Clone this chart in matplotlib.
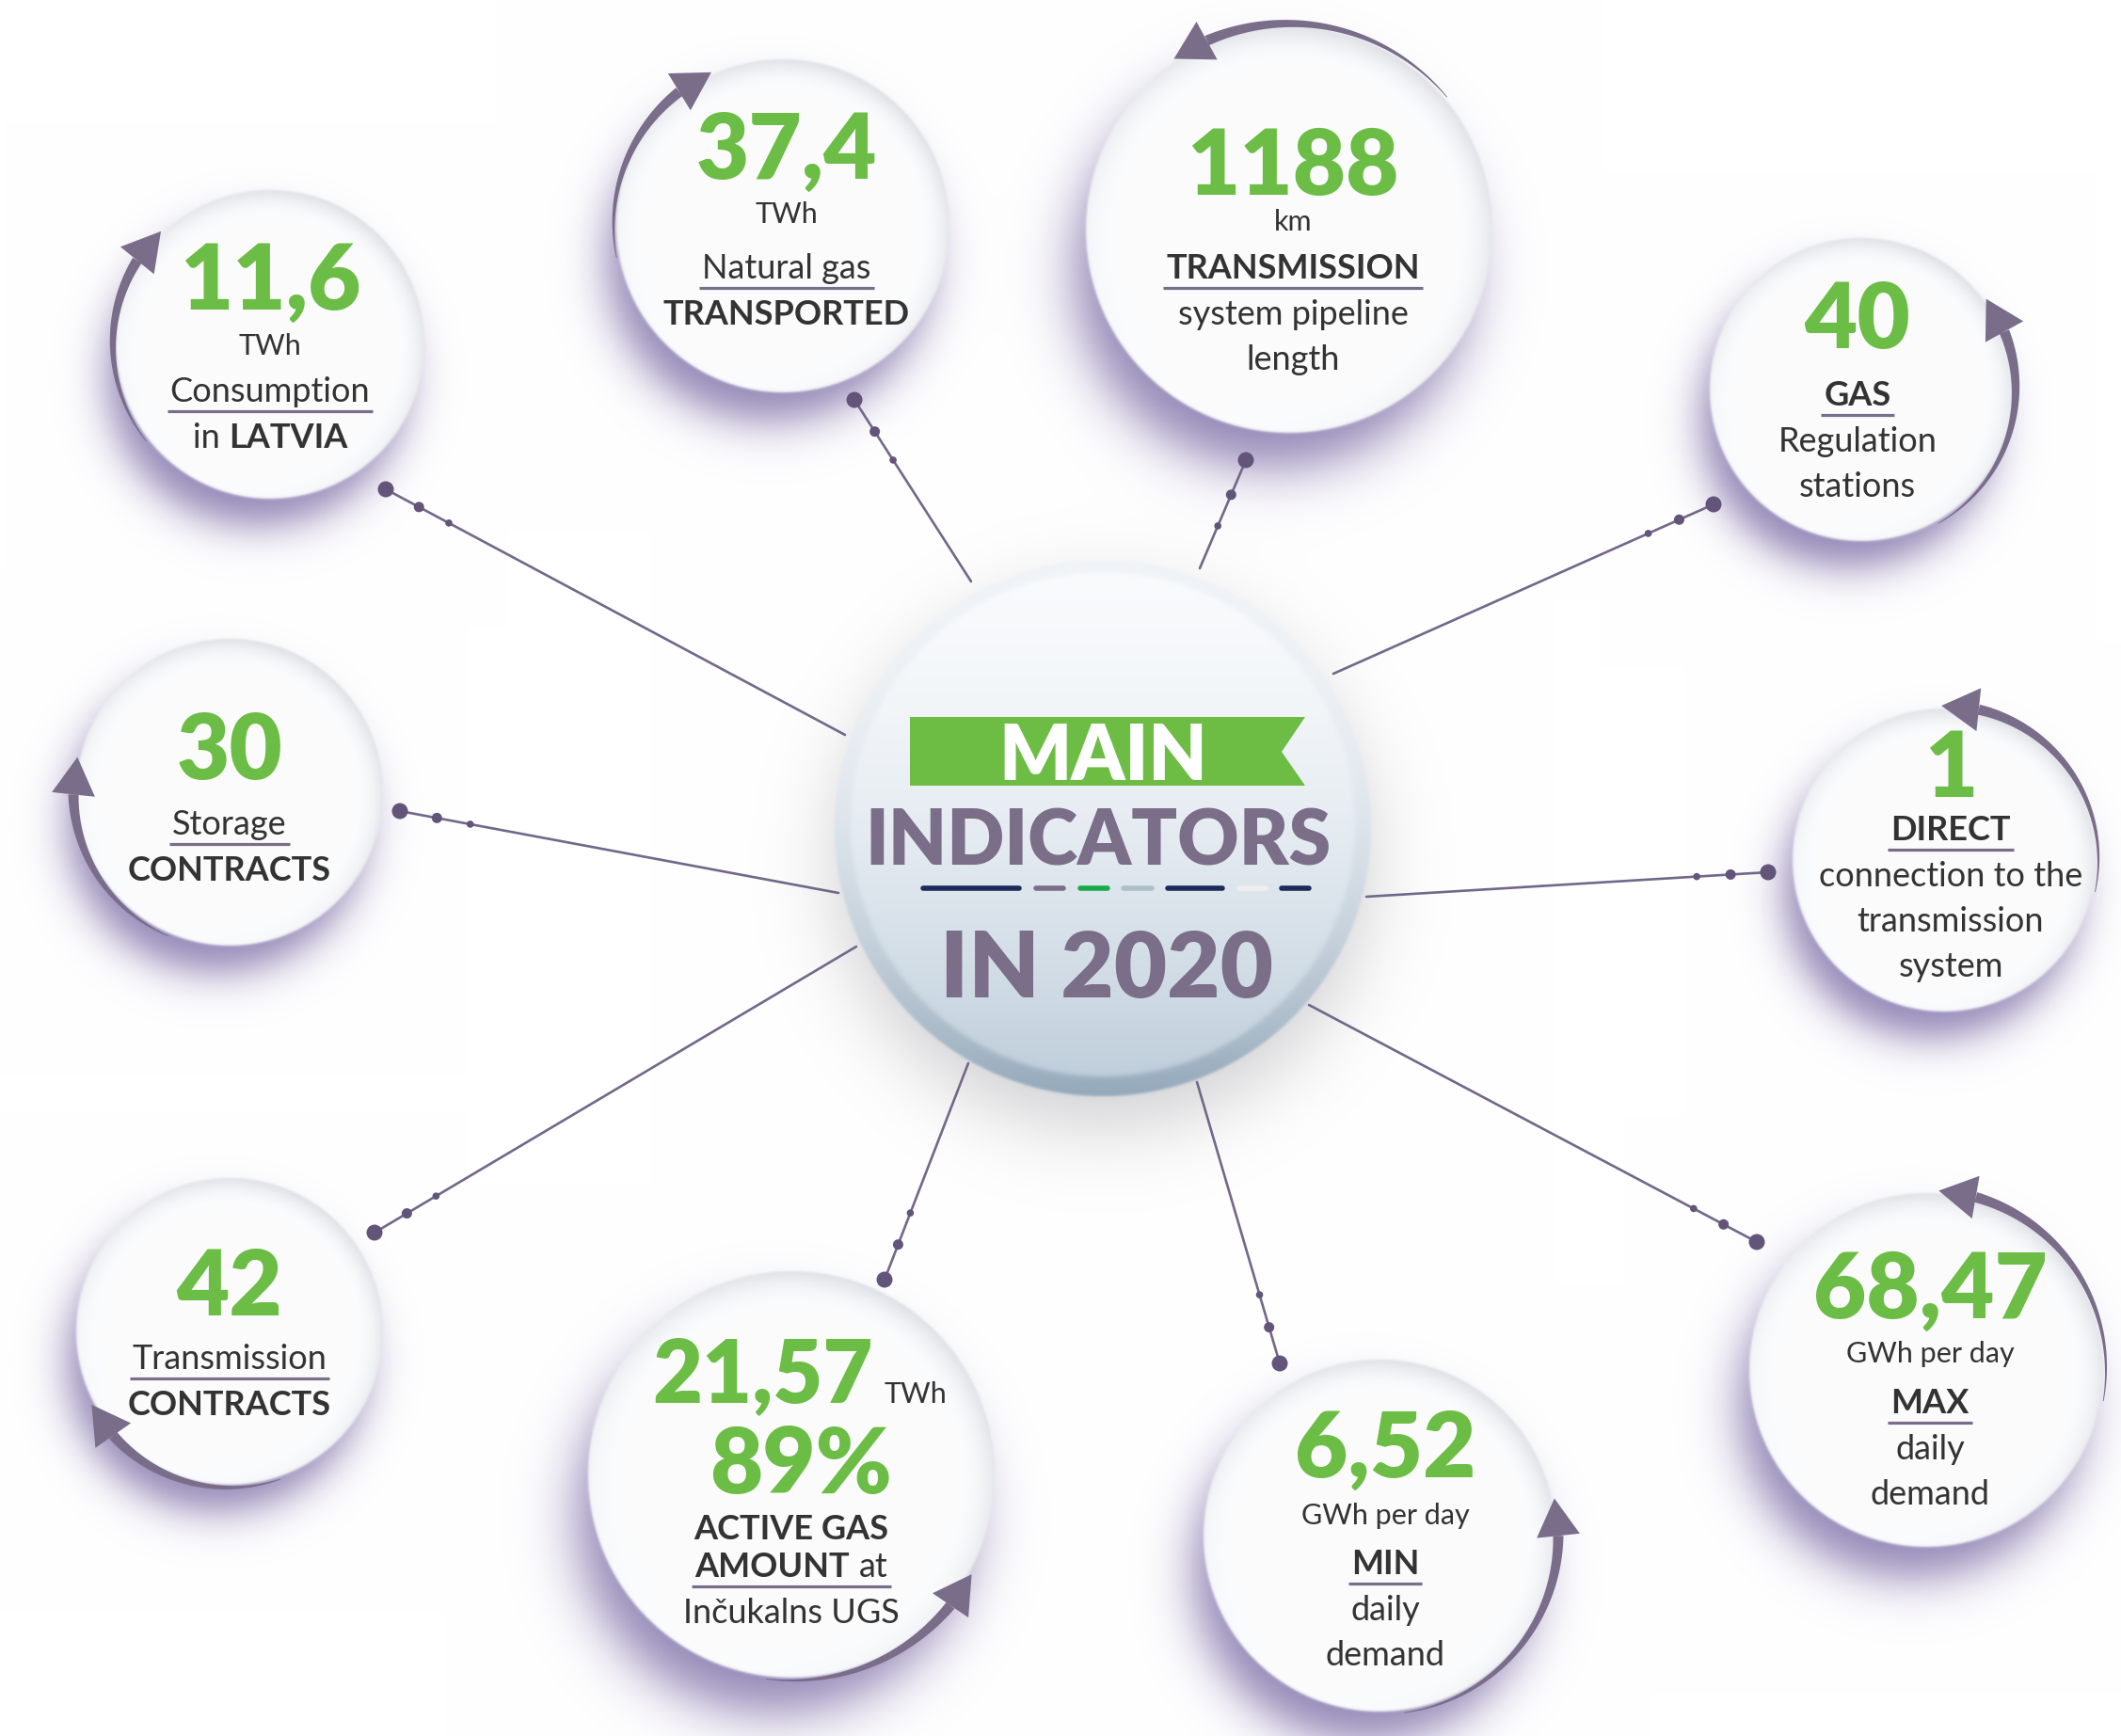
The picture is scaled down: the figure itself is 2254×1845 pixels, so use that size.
import numpy as np
import matplotlib
matplotlib.use("Agg")
import matplotlib.pyplot as plt
from matplotlib.patches import Polygon, Circle

W, H = 2254, 1845
GREEN = "#6cbd45"
PURPLE = "#7a6d8a"
LINE = "#73678a"
DOT = "#635479"
TEXT = "#333333"
TITLE = "#7b6e88"
FONT = "Lato"

# ---- indicator data ----
values = ["11,6", "37,4", "1188", "40", "30", "1", "42", "21,57", "6,52", "68,47"]
extra_values = ["", "", "", "", "", "", "", "89%", "", ""]
units = ["TWh", "TWh", "km", "", "", "", "", "TWh", "GWh per day", "GWh per day"]
# *...* marks bold words; the underline sits between top and bottom lines
labels_top = [["Consumption"], ["Natural gas"], ["*TRANSMISSION*"], ["*GAS*"],
              ["Storage"], ["*DIRECT*"], ["Transmission"],
              ["*ACTIVE GAS*", "*AMOUNT* at"], ["*MIN*"], ["*MAX*"]]
labels_bottom = [["in *LATVIA*"], ["*TRANSPORTED*"], ["system pipeline", "length"],
                 ["Regulation", "stations"], ["*CONTRACTS*"],
                 ["connection to the", "transmission", "system"], ["*CONTRACTS*"],
                 ["Inčukalns UGS"], ["daily", "demand"], ["daily", "demand"]]
title_banner = "MAIN"
title_main = "INDICATORS"
title_year = "IN 2020"

# ---- layout (pixels) ----
centre = (1172, 880, 285)
# cx, cy, r, text dx, value dy, unit dy, first label dy
bubbles = [
    (287, 366, 164, 0, -72, 0, 48),
    (832, 240, 177, 4, -85, -14, 43),
    (1370, 244, 216, 4, -72, -10, 39),
    (1978, 414, 161, -4, -79, None, 4),
    (244, 842, 163, 0, -49, None, 32),
    (2066, 914, 161, 7, -102, None, -34),
    (244, 1415, 163, 0, -52, None, 27),
    (841, 1567, 216, 0, -111, None, 56),
    (1466, 1632, 187, 6, -97, -23, 28),
    (2047, 1456, 188, 4, -90, -19, 33),
]
# arrow arcs around bubbles: start / end angle in degrees (counter-clockwise from east)
arcs = [(218, 134), (191, 115), (40, 124), (-60, 36), (247, 167),
        (-12, 91), (289, 208), (-97, -29), (-82, 12), (-10, 86)]
spokes = [((898, 781), (410, 520)), ((1032, 618), (908, 425)), ((1275, 604), (1324, 489)),
          ((1417, 716), (1821, 536)), ((891, 949), (425, 862)), ((1452, 953), (1879, 927)),
          ((910, 1006), (398, 1310)), ((1029, 1130), (940, 1360)), ((1272, 1150), (1360, 1449)),
          ((1391, 1068), (1867, 1320))]

fig = plt.figure(figsize=(W / 100, H / 100), dpi=100)
ax = fig.add_axes([0, 0, 1, 1])
ax.set_xlim(0, W)
ax.set_ylim(H, 0)
ax.axis("off")

# ---------------- raster background: shadows, bubbles, centre disc ----------------
img = np.ones((H, W, 3))


def layer(cx, cy, R, soft, colour, amax=1.0):
    pad = R + 8 * soft + 4
    x0, x1 = int(max(cx - pad, 0)), int(min(cx + pad, W))
    y0, y1 = int(max(cy - pad, 0)), int(min(cy + pad, H))
    ys, xs = np.mgrid[y0:y1, x0:x1] + 0.5
    d = np.hypot(xs - cx, ys - cy)
    a = amax / (1 + np.exp(np.clip((d - R) / soft, -50, 50)))
    col = colour(xs, ys, d) if callable(colour) else np.array(colour)
    sub = img[y0:y1, x0:x1]
    sub[:] = sub * (1 - a[..., None]) + col * a[..., None]


def bubble_colour(cx, cy, r):
    def f(xs, ys, d):
        phi = np.arctan2(-(ys - cy), xs - cx)
        rim = np.clip((d / r - 0.82) / 0.18, 0, 1) ** 2
        t = rim * (0.5 + 0.5 * np.cos(phi - np.radians(60))) * 0.75
        c0 = np.array([0.985, 0.988, 0.992])
        c1 = np.array([0.83, 0.84, 0.87])
        return c0 + (c1 - c0) * t[..., None]
    return f


def vertical(cy, r, top, bottom, p):
    def f(xs, ys, d):
        u = np.clip((ys - (cy - r)) / (2 * r), 0, 1) ** p
        return np.array(top) + (np.array(bottom) - np.array(top)) * u[..., None]
    return f


ccx, ccy, cr = centre
layer(ccx, ccy + 35, cr, 24, (0.62, 0.62, 0.64), 0.45)
for cx, cy, r, *_ in bubbles:
    layer(cx - 0.08 * r, cy + 0.2 * r, 0.97 * r, 0.08 * r, (0.50, 0.44, 0.66), 0.85)
for cx, cy, r, *_ in bubbles:
    layer(cx, cy, r, 0.7, bubble_colour(cx, cy, r))
layer(ccx, ccy, cr, 0.8, vertical(ccy, cr, (0.94, 0.955, 0.97), (0.58, 0.66, 0.73), 2.2))
layer(ccx, ccy - 4, cr - 17, 1.5, vertical(ccy - 4, cr - 17, (0.975, 0.982, 0.99), (0.75, 0.81, 0.86), 1.6))

ax.imshow(img, extent=(0, W, H, 0), interpolation="antialiased", zorder=0)

# ---------------- spokes with dots ----------------
for (x0, y0), (x1, y1) in spokes:
    ax.plot([x0, x1], [y0, y1], color=LINE, lw=1.9, zorder=2, solid_capstyle="round")
    v = np.array([x0 - x1, y0 - y1], float)
    v /= np.hypot(*v)
    for dist, rad in [(0, 8.5), (40, 5.5), (76, 3.8)]:
        ax.add_patch(Circle((x1 + v[0] * dist, y1 + v[1] * dist), rad, fc=DOT, ec="none", zorder=3))

# ---------------- arrow arcs ----------------
for (cx, cy, r, *_), (a0, a1) in zip(bubbles, arcs):
    R = r + 3
    sgn = 1 if a1 > a0 else -1
    L, hw = 40, 23
    t1 = np.radians(a1)
    tb = t1 - sgn * L / R
    th = np.linspace(np.radians(a0), tb, 150)
    w = np.linspace(0.8, 11.0, th.size) / 2
    outer = np.c_[cx + (R + w) * np.cos(th), cy - (R + w) * np.sin(th)]
    inner = np.c_[cx + (R - w) * np.cos(th), cy - (R - w) * np.sin(th)]
    ax.add_patch(Polygon(np.vstack([outer, inner[::-1]]), closed=True, fc=PURPLE, ec="none", zorder=4))
    tip = np.array([cx + R * np.cos(t1), cy - R * np.sin(t1)])
    base = np.array([cx + R * np.cos(tb), cy - R * np.sin(tb)])
    dv = (tip - base) / np.hypot(*(tip - base))
    n = np.array([-dv[1], dv[0]])
    ax.add_patch(Polygon([tip, base + n * hw, base - n * hw], closed=True, fc=PURPLE, ec="none", zorder=4))

# ---------------- text ----------------
renderer = fig.canvas.get_renderer()


def em(size):
    return size * 100 / 72


def text_line(x, yc, s, size, color=TEXT, weight=None, cap=0.36):
    parts = s.split("*")
    segs = [(p.strip(), "bold" if i % 2 else "normal") for i, p in enumerate(parts) if p.strip()]
    if weight:
        segs = [(t, weight) for t, _ in segs]
    y = yc + cap * em(size)
    objs = [ax.text(0, y, t, fontsize=size, fontweight=wt, color=color, family=FONT,
                    ha="left", va="baseline", zorder=6) for t, wt in segs]
    widths = [o.get_window_extent(renderer).width for o in objs]
    gap = 0.27 * em(size)
    total = sum(widths) + gap * (len(objs) - 1)
    cur = x - total / 2
    for o, wd in zip(objs, widths):
        o.set_x(cur)
        cur += wd + gap
    return total


VAL, UNIT, LAB = 70, 22, 26
for i, (cx, cy, r, dx, dvy, duy, dly) in enumerate(bubbles):
    x = cx + dx
    if extra_values[i]:
        # value with its unit on one line, then the percentage
        yb = cy + dvy + 0.36 * em(VAL)
        tv = ax.text(0, yb, values[i], fontsize=VAL - 4, fontweight="heavy", color=GREEN,
                     family=FONT, ha="left", va="baseline", zorder=6)
        tu = ax.text(0, yb, units[i], fontsize=UNIT, color=TEXT, family=FONT,
                     ha="left", va="baseline", zorder=6)
        wv = tv.get_window_extent(renderer).width
        wu = tu.get_window_extent(renderer).width
        x0 = x + 9 - (wv + 12 + wu) / 2
        tv.set_x(x0)
        tu.set_x(x0 + wv + 12)
        text_line(x + 10, cy - 15, extra_values[i], VAL, GREEN, "heavy")
        step_top = 40
    else:
        text_line(x, cy + dvy, values[i], VAL, GREEN, "heavy")
        if duy is not None:
            text_line(x, cy + duy, units[i], UNIT)
        step_top = 48
    y = cy + dly
    for j, s in enumerate(labels_top[i]):
        wl = text_line(x, y, s, LAB)
        if j < len(labels_top[i]) - 1:
            y += step_top
    yu = y + 23
    ax.plot([x - wl / 2 - 3, x + wl / 2 + 3], [yu, yu], color=PURPLE, lw=2.3, zorder=6,
            solid_capstyle="butt")
    y = yu + 26
    for s in labels_bottom[i]:
        text_line(x, y, s, LAB)
        y += 48

# ---------------- centre title ----------------
ax.add_patch(Polygon([(967, 762), (1387, 762), (1362, 799), (1387, 835), (967, 835)],
                     closed=True, fc="#6dbd45", ec="none", zorder=5))
text_line(1172, 800, title_banner, 58, "white", "heavy")
text_line(1167, 890, title_main, 58, TITLE, "heavy")
text_line(1176, 1025, title_year, 70, TITLE, "heavy")
dash_x = [(978, 1086), (1098, 1133), (1145, 1180), (1191, 1227), (1238, 1302), (1314, 1348), (1359, 1394)]
dash_c = ["#1e2a5a", "#7b6e88", "#19ab4b", "#aebfca", "#1e2a5a", "#eeeeee", "#1e2a5a"]
for (xa, xb), c in zip(dash_x, dash_c):
    ax.plot([xa + 3, xb - 3], [944, 944], color=c, lw=4, solid_capstyle="round", zorder=6)

fig.savefig("out.png", dpi=100)
